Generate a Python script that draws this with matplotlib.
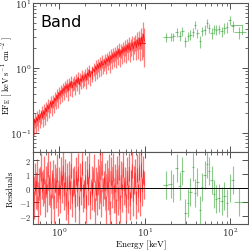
import numpy as np
import matplotlib
matplotlib.use("Agg")
import matplotlib.pyplot as plt

plt.rcParams['mathtext.fontset'] = 'cm'
plt.rcParams['font.family'] = 'DejaVu Serif'

# ---------------- data ----------------
red_energy = [
    0.51, 0.52, 0.535, 0.55, 0.565, 0.58, 0.595, 0.61, 0.63, 0.645,
    0.665, 0.68, 0.70, 0.72, 0.74, 0.76, 0.78, 0.80, 0.825, 0.85,
    0.87, 0.895, 0.92, 0.945, 0.97, 1.00, 1.03, 1.06, 1.09, 1.12,
    1.15, 1.18, 1.21, 1.245, 1.28, 1.315, 1.35, 1.39, 1.43, 1.47,
    1.51, 1.55, 1.59, 1.635, 1.68, 1.73, 1.78, 1.83, 1.88, 1.93,
    1.98, 2.04, 2.09, 2.15, 2.21, 2.27, 2.33, 2.40, 2.46, 2.53,
    2.60, 2.67, 2.75, 2.82, 2.90, 2.98, 3.06, 3.15, 3.24, 3.33,
    3.42, 3.51, 3.61, 3.71, 3.81, 3.92, 4.03, 4.14, 4.25, 4.37,
    4.49, 4.62, 4.75, 4.88, 5.01, 5.15, 5.30, 5.44, 5.59, 5.75,
    5.91, 6.07, 6.24, 6.41, 6.59, 6.77, 6.96, 7.15, 7.35, 7.56,
    7.77, 7.98, 8.20, 8.43, 8.67, 8.91, 9.15, 9.41, 9.67, 9.94]
red_flux = [
    0.13, 0.16, 0.14, 0.17, 0.15, 0.19, 0.16, 0.18, 0.21, 0.17,
    0.22, 0.19, 0.24, 0.21, 0.27, 0.23, 0.26, 0.30, 0.25, 0.31,
    0.28, 0.34, 0.31, 0.38, 0.33, 0.42, 0.37, 0.45, 0.40, 0.48,
    0.43, 0.52, 0.47, 0.55, 0.44, 0.58, 0.50, 0.62, 0.49, 0.57,
    0.60, 0.53, 0.66, 0.58, 0.71, 0.55, 0.68, 0.62, 0.76, 0.64,
    0.70, 0.79, 0.66, 0.84, 0.75, 0.92, 0.72, 0.88, 0.81, 0.97,
    0.86, 1.05, 0.93, 1.12, 0.98, 1.20, 1.02, 1.28, 1.08, 1.16,
    1.30, 1.12, 1.38, 1.25, 1.48, 1.20, 1.55, 1.35, 1.62, 1.42,
    1.70, 1.45, 1.82, 1.58, 1.95, 1.50, 1.88, 1.66, 2.05, 1.75,
    2.10, 1.78, 2.25, 1.90, 2.35, 1.85, 2.18, 2.42, 1.96, 2.30,
    2.55, 2.05, 2.70, 2.20, 2.85, 2.15, 3.00, 2.40, 3.30, 2.60]
red_relerr = [
    0.28, 0.25, 0.30, 0.26, 0.29, 0.24, 0.27, 0.25, 0.22, 0.28,
    0.26, 0.30, 0.24, 0.27, 0.22, 0.26, 0.24, 0.21, 0.27, 0.23,
    0.27, 0.23, 0.26, 0.22, 0.27, 0.21, 0.25, 0.22, 0.26, 0.22,
    0.26, 0.22, 0.25, 0.23, 0.29, 0.22, 0.26, 0.21, 0.27, 0.24,
    0.23, 0.27, 0.22, 0.25, 0.21, 0.28, 0.23, 0.25, 0.20, 0.25,
    0.25, 0.22, 0.28, 0.23, 0.26, 0.21, 0.27, 0.23, 0.25, 0.22,
    0.28, 0.24, 0.27, 0.23, 0.27, 0.22, 0.27, 0.22, 0.26, 0.24,
    0.24, 0.29, 0.23, 0.27, 0.24, 0.30, 0.24, 0.28, 0.23, 0.27,
    0.25, 0.31, 0.24, 0.29, 0.24, 0.32, 0.25, 0.30, 0.24, 0.29,
    0.27, 0.33, 0.26, 0.31, 0.26, 0.34, 0.29, 0.26, 0.33, 0.29,
    0.28, 0.36, 0.30, 0.38, 0.32, 0.40, 0.35, 0.45, 0.55, 0.60]
red_resid = [
    -1.2, 0.8, -0.5, 1.1, -1.6, 0.4, -0.9, 1.5, 0.2, -0.3,
    1.3, -1.1, 0.6, -0.7, 1.8, -0.2, 0.9, -1.4, 0.3, 1.0,
    -1.5, 0.7, -0.4, 1.4, -1.0, 0.5, -0.8, 1.2, -0.1, 1.6,
    -0.6, 1.1, -1.3, 0.8, -1.9, 0.9, -0.5, 1.7, -1.1, 0.4,
    0.6, -1.4, 1.2, -0.3, 1.5, -1.6, 0.8, -0.2, 1.9, -0.7,
    -0.4, 0.9, -1.5, 1.3, -0.2, 1.7, -1.2, 0.6, -0.6, 1.4,
    -1.7, 0.5, -0.9, 1.1, -0.5, 1.6, -1.1, 1.9, -0.3, 0.2,
    0.8, -1.6, 1.0, -0.6, 1.4, -1.9, 1.2, -0.4, 1.5, -0.8,
    0.7, -1.8, 1.3, -0.9, 1.6, -1.5, 0.9, -0.7, 1.8, -0.2,
    0.5, -1.4, 1.2, -0.8, 1.5, -1.3, 0.3, 1.7, -1.0, 0.6,
    1.1, -1.2, 1.4, -0.7, 1.6, -1.0, 1.8, -0.3, 1.3, 0.2]
red_model_energy = [8.6, 10.0]
red_model_flux = [2.4, 2.4]

green_energy = [17.5, 20.0, 21.6, 23.5, 25.7, 27.5, 29.5, 31.9, 33.6, 36.8,
                38.5, 41.0, 43.9, 46.8, 49.9, 53.4, 56.5, 60.2, 64.0, 68.1,
                73.0, 78.6, 84.2, 91.2, 98.0, 106.0, 124.0]
green_flux = [2.97, 3.00, 3.05, 3.58, 3.14, 3.67, 2.57, 3.07, 3.25, 3.54,
              4.64, 3.45, 2.57, 3.67, 3.88, 4.93, 4.12, 3.45, 3.98, 3.88,
              3.98, 3.67, 4.12, 4.27, 5.53, 4.48, 3.54]
green_relerr = [0.16, 0.15, 0.15, 0.15, 0.16, 0.15, 0.18, 0.16, 0.16, 0.16,
                0.14, 0.17, 0.20, 0.17, 0.16, 0.15, 0.17, 0.18, 0.17, 0.17,
                0.17, 0.18, 0.18, 0.18, 0.16, 0.19, 0.22]
green_lo = [16.3, 18.8, 20.8, 22.6, 24.6, 26.6, 28.5, 30.7, 32.8, 35.2,
            37.6, 39.8, 42.4, 45.3, 48.3, 51.6, 55.0, 58.3, 62.1, 66.0,
            70.5, 75.8, 81.3, 87.6, 94.6, 102.0, 111.0]
green_hi = [18.8, 20.8, 22.6, 24.6, 26.6, 28.5, 30.7, 32.8, 35.2, 37.6,
            39.8, 42.4, 45.3, 48.3, 51.6, 55.0, 58.3, 62.1, 66.0, 70.5,
            75.8, 81.3, 87.6, 94.6, 102.0, 111.0, 150.0]
green_resid = [0.25, 0.3, 0.0, 1.45, 0.15, 1.2, -1.75, -1.05, -0.25, 1.5,
               -0.35, 0.45, -1.6, 0.1, 0.9, 1.7, 1.2, 0.55, -0.4, -0.8,
               -0.7, -0.95, -0.6, -1.05, 0.0, 0.6, -1.0]
green_model_energy = [102.0, 135.0, 135.0]
green_model_flux = [4.5, 4.5, 3.3]

# ---------------- figure ----------------
fig = plt.figure(figsize=(2.49, 2.51), dpi=100)
ax1 = fig.add_axes([0.133, 0.392, 0.863, 0.592])
ax2 = fig.add_axes([0.133, 0.1016, 0.863, 0.2904])

RED = '#ff0000'
GREEN = '#2ca02c'

re = np.array(red_energy)
rf = np.array(red_flux)
rerr = rf * np.array(red_relerr)
ge = np.array(green_energy)
gf = np.array(green_flux)
gerr = gf * np.array(green_relerr)
gx = [ge - np.array(green_lo), np.array(green_hi) - ge]

ax1.errorbar(re, rf, yerr=rerr, fmt='none', ecolor=RED, alpha=0.5, elinewidth=0.9)
ax1.plot(re, rf, color=RED, lw=0.6, alpha=0.8)
ax1.plot(red_model_energy, red_model_flux, color=RED, lw=0.7, alpha=0.8)
ax1.errorbar(ge, gf, yerr=gerr, xerr=gx, fmt='none', ecolor=GREEN, alpha=0.55, elinewidth=0.8)
ax1.plot(green_model_energy, green_model_flux, color=GREEN, lw=0.7, alpha=0.6)

ax2.errorbar(re, red_resid, yerr=1.0, fmt='none', ecolor=RED, alpha=0.55, elinewidth=0.9)
ax2.plot(re, red_resid, color=RED, lw=0.5, alpha=0.6)
ax2.errorbar(ge, green_resid, yerr=1.0, xerr=gx, fmt='none', ecolor=GREEN, alpha=0.55, elinewidth=0.8)
ax2.axhline(0, color='black', lw=0.7)

for ax in (ax1, ax2):
    ax.set_xscale('log')
    ax.set_xlim(0.5, 160)
    ax.tick_params(which='both', direction='in', top=True, right=True, labelsize=6.2,
                   colors='#333333', pad=1.5)
    ax.tick_params(axis='x', pad=0.8)
    ax.tick_params(which='major', length=4, width=0.6)
    ax.tick_params(which='minor', length=2, width=0.5)
    for s in ax.spines.values():
        s.set_color('#555555')
        s.set_linewidth(0.8)

ax1.set_yscale('log')
ax1.set_ylim(0.051, 10)
ax1.tick_params(labelbottom=False)
ax1.set_ylabel(r'$\mathrm{EF_E\ [\ keV\ s^{-1}\ cm^{-2}\ ]}$', fontsize=6.0)
ax1.yaxis.set_label_coords(-0.083, 0.52)
ax1.text(0.035, 0.925, 'Band', transform=ax1.transAxes, fontsize=11.5,
         family='DejaVu Sans', va='top', ha='left')

ax2.set_ylim(-2.6, 2.6)
ax2.set_yticks([-2, -1, 0, 1, 2])
ax2.set_yticklabels([r'$-2$', r'$-1$', r'$0$', r'$1$', r'$2$'])
ax2.set_ylabel(r'$\mathrm{Residuals}$', fontsize=6.2)
ax2.yaxis.set_label_coords(-0.083, 0.5)
ax2.set_xlabel(r'$\mathrm{Energy\ [keV]}$', fontsize=6.5, labelpad=0)

fig.savefig('out.png', dpi=100)
